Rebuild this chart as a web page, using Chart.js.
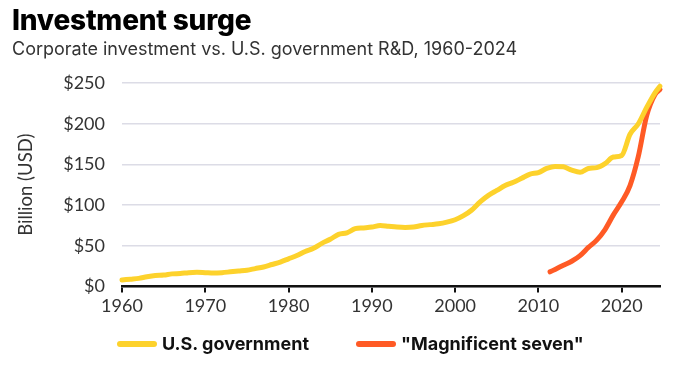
<!DOCTYPE html>
<html lang="en">
<head>
  <meta charset="UTF-8" />
  <title>Investment surge</title>
  <script src="https://cdn.jsdelivr.net/npm/chart.js"></script>
  <style>
    body { margin: 0; background: #fff; font-family: Inter, sans-serif; }
    .wrap { position: relative; width: 673px; height: 365px; overflow: hidden; }
    canvas { position: absolute; left: 0; top: 0; }
    .title { position: absolute; left: 12px; top: 3px; font-size: 28px; font-weight: 800; color: #000; letter-spacing: -0.2px; }
    .subtitle { position: absolute; left: 12px; top: 38px; font-size: 18px; color: #333; }
    .legend { position: absolute; left: 117px; top: 333px; display: flex; align-items: center; font-size: 18px; font-weight: 700; color: #111; }
    .legend .mark { display: inline-block; width: 40px; height: 6px; border-radius: 3px; margin-right: 5px; }
    .legend .item { display: flex; align-items: center; margin-right: 47px; }
  </style>
</head>
<body>
  <div class="wrap">
    <canvas id="chart" width="673" height="365"></canvas>
    <div class="title">Investment surge</div>
    <div class="subtitle">Corporate investment vs. U.S. government R&amp;D, 1960-2024</div>
    <div class="legend">
      <div class="item"><span class="mark" style="background:#fdd22c"></span>U.S. government</div>
      <div class="item"><span class="mark" style="background:#ff5a25"></span>"Magnificent seven"</div>
    </div>
  </div>

  <script>
    // U.S. government R&D, billions
    const govYears = [1960, 1961, 1962, 1963, 1964, 1965, 1966, 1967, 1968, 1969,
      1970, 1971, 1972, 1973, 1974, 1975, 1976, 1977, 1978, 1979,
      1980, 1981, 1982, 1983, 1984, 1985, 1986, 1987, 1988, 1989,
      1990, 1991, 1992, 1993, 1994, 1995, 1996, 1997, 1998, 1999,
      2000, 2001, 2002, 2003, 2004, 2005, 2006, 2007, 2008, 2009,
      2010, 2011, 2012, 2013, 2014, 2015, 2016, 2017, 2018, 2019,
      2020, 2021, 2022, 2023, 2024, 2024.6];
    const govValues = [8, 9, 10, 12, 13.5, 14, 15.5, 16, 17, 17.5,
      17, 16.5, 17, 18, 19, 20, 22, 24, 27, 30,
      34, 38, 43, 47, 53, 58, 64, 66, 71, 72,
      73, 75, 74, 73, 72.5, 73, 75, 76, 77, 79,
      82, 87, 94, 104, 112, 118, 124, 128, 133, 138,
      140, 145, 147.5, 147, 143, 140.5, 145, 146, 151, 159,
      161, 187, 200, 220, 238, 246];

    // "Magnificent seven" investment, billions
    const magYears = [2011.4, 2012, 2013, 2014, 2015, 2016, 2017, 2018, 2019, 2020, 2021, 2022, 2023, 2024, 2024.6];
    const magValues = [18, 21, 26, 31, 38, 48, 57, 70, 88, 104, 124, 160, 210, 236, 242];

    const xTicks = [1960, 1970, 1980, 1990, 2000, 2010, 2020];
    const yTicks = [0, 50, 100, 150, 200, 250];

    const toPoints = (xs, ys) => xs.map((x, i) => ({ x, y: ys[i] }));

    new Chart(document.getElementById("chart").getContext("2d"), {
      type: "line",
      data: {
        datasets: [
          {
            label: "U.S. government",
            data: toPoints(govYears, govValues),
            borderColor: "#fdd22c",
            borderWidth: 5,
            pointRadius: 0,
            cubicInterpolationMode: "monotone",
            borderCapStyle: "round",
            clip: false
          },
          {
            label: '"Magnificent seven"',
            data: toPoints(magYears, magValues),
            borderColor: "#ff5a25",
            borderWidth: 5,
            pointRadius: 0,
            cubicInterpolationMode: "monotone",
            borderCapStyle: "round",
            clip: false
          }
        ]
      },
      options: {
        responsive: false,
        animation: false,
        layout: { padding: { left: 5, right: 13, top: 83, bottom: 0 } },
        plugins: { legend: { display: false }, tooltip: { enabled: false } },
        scales: {
          x: {
            type: "linear",
            min: 1960,
            max: 2024.6,
            afterFit: s => { s.height = 365 - 286.5; },
            afterBuildTicks: s => { s.ticks = xTicks.map(v => ({ value: v })); },
            ticks: {
              includeBounds: false,
              padding: 3,
              color: "#333",
              font: { family: "Lato", size: 18 },
              callback: v => String(v),
              maxRotation: 0
            },
            grid: { drawOnChartArea: false, drawTicks: true, tickLength: 6, color: "#111", lineWidth: 2 },
            border: { color: "#111", width: 2.5 }
          },
          y: {
            min: 0,
            max: 250,
            afterFit: s => { s.width = 117; },
            afterBuildTicks: s => { s.ticks = yTicks.map(v => ({ value: v })); },
            ticks: {
              padding: 17,
              color: "#333",
              font: { family: "Lato", size: 18 },
              callback: v => "$" + v
            },
            grid: { drawTicks: false, color: "#dcdce6", lineWidth: 1.5 },
            border: { display: false },
            title: {
              display: true,
              text: "Billion (USD)",
              color: "#333",
              font: { family: "Lato", size: 18.5 },
              padding: { top: 10, bottom: 0 }
            }
          }
        }
      }
    });
  </script>
</body>
</html>
